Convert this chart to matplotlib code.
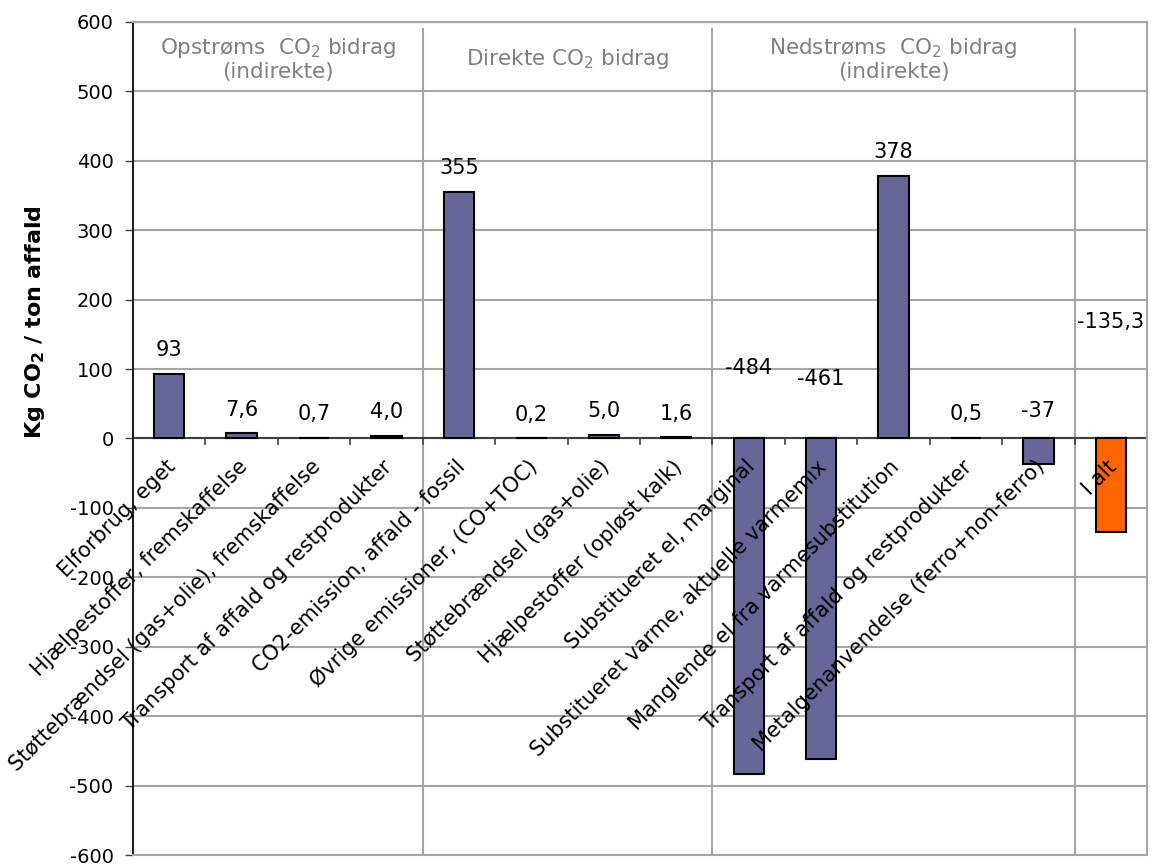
import matplotlib.pyplot as plt
import numpy as np

plt.rcParams['font.family'] = ['DejaVu Sans']
plt.rcParams['mathtext.fontset'] = 'dejavusans'
plt.rcParams['axes.unicode_minus'] = False

categories = [
    "Elforbrug, eget",
    "Hjælpestoffer, fremskaffelse",
    "Støttebrændsel (gas+olie), fremskaffelse",
    "Transport af affald og restprodukter",
    "CO2-emission, affald - fossil",
    "Øvrige emissioner, (CO+TOC)",
    "Støttebrændsel (gas+olie)",
    "Hjælpestoffer (opløst kalk)",
    "Substitueret el, marginal",
    "Substitueret varme, aktuelle varmemix",
    "Manglende el fra varmesubstitution",
    "Transport af affald og restprodukter",
    "Metalgenanvendelse (ferro+non-ferro)",
    "I alt",
]
values = [93, 7.6, 0.7, 4.0, 355, 0.2, 5.0, 1.6, -484, -461, 378, 0.5, -37, -135.3]
decimals = [0, 1, 1, 1, 0, 1, 1, 1, 0, 0, 0, 1, 0, 1]

groups = ["Opstrøms  CO$_2$ bidrag\n(indirekte)",
          "Direkte CO$_2$ bidrag",
          "Nedstrøms  CO$_2$ bidrag\n(indirekte)"]
group_bounds = [(-0.5, 3.5), (3.5, 7.5), (7.5, 12.5)]

bar_color = "#666699"
total_color = "#FF6600"
grid_color = "#A6A6A6"

fig = plt.figure(figsize=(11.54, 8.66), dpi=100)
ax = fig.add_axes([0.1153, 0.0127, 0.8787, 0.962])

x = np.arange(len(values))
colors = [bar_color] * (len(values) - 1) + [total_color]
ax.bar(x, values, width=0.42, color=colors, edgecolor="black", linewidth=1.5, zorder=3)

ax.set_xlim(-0.5, len(values) - 0.5)
ax.set_ylim(-600, 600)
ax.set_yticks(np.arange(-600, 601, 100))
ax.tick_params(axis="y", labelsize=14, length=6, width=1, color="#404040", pad=8)
ax.set_xticks([])
ax.yaxis.grid(True, color=grid_color, linewidth=1.5, zorder=0)
ax.set_axisbelow(True)

for side in ["top", "right", "bottom"]:
    ax.spines[side].set_color(grid_color)
    ax.spines[side].set_linewidth(1.5)
ax.spines["left"].set_color("#202020")
ax.spines["left"].set_linewidth(1.5)

# zero line with category ticks
ax.axhline(0, color="#404040", linewidth=1.5, zorder=2)
for b in np.arange(0.5, len(values) - 0.5, 1):
    ax.plot([b, b], [0, -8], color="#404040", linewidth=1.2, zorder=2)

# group separators
for b in [3.5, 7.5, 12.5]:
    ax.plot([b, b], [-600, 590], color=grid_color, linewidth=1.5, zorder=1)

for (lo, hi), txt in zip(group_bounds, groups):
    ax.text((lo + hi) / 2, 547, txt, ha="center", va="center",
            fontsize=15.5, color="#808080", linespacing=1.1)

# value labels
label_y = {8: 101, 9: 86, 12: 39, 13: 168}
for i, (v, d) in enumerate(zip(values, decimals)):
    s = f"{v:.{d}f}".replace(".", ",")
    if i in label_y:
        ax.text(i, label_y[i], s, ha="center", va="center", fontsize=15)
    else:
        ax.annotate(s, xy=(i, max(v, 0)), xytext=(0, 17), textcoords="offset points",
                    ha="center", va="center", fontsize=15)

# category labels along the zero line
for i, c in enumerate(categories):
    ax.annotate(c, xy=(i, 0), xytext=(-3, -13), textcoords="offset points",
                ha="right", va="top", rotation=45, rotation_mode="anchor",
                fontsize=15, zorder=4)

fig.text(0.03, 0.628, r"Kg CO$_\mathbf{2}$ / ton affald", rotation=90,
         ha="center", va="center", fontsize=16, fontweight="bold")

plt.savefig("out.png", dpi=100)
